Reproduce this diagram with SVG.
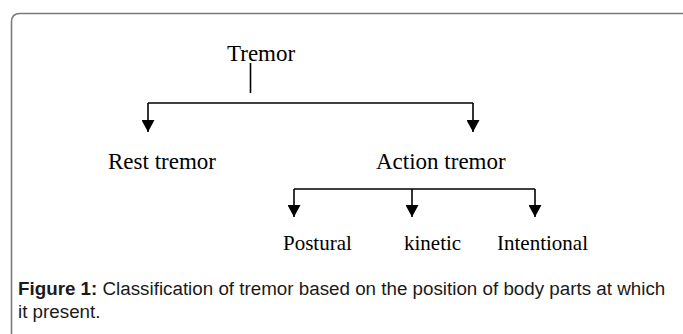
<svg xmlns="http://www.w3.org/2000/svg" width="683" height="334" viewBox="0 0 683 334">
<defs>
<style>
.lbl{font-family:"Liberation Serif","Times New Roman",serif;fill:#000}
.big{font-size:23px}
.sm{font-size:21px}
.ln{stroke:#000;stroke-width:1.6;fill:none}
.cap{font-family:"Liberation Sans",Arial,sans-serif;font-size:18.8px;fill:#1a1a1a}
</style>
<marker id="ah" viewBox="0 0 12 13" refX="12" refY="6.5" markerWidth="12" markerHeight="13" markerUnits="userSpaceOnUse" orient="auto">
<path d="M0,0 L12,6.5 L0,13 Z" fill="#000"/>
</marker>
</defs>
<rect width="683" height="334" fill="#fff"/>
<path d="M11.5 334 V22 Q11.5 13.5 20 13.5 H683" fill="none" stroke="#7a7a7a" stroke-width="1.6"/>
<g id="connectors">
<path class="ln" d="M250.5 63 V93"/>
<path class="ln" d="M148 103 H473"/>
<path class="ln" d="M148 103 V132" marker-end="url(#ah)"/>
<path class="ln" d="M473 103 V132" marker-end="url(#ah)"/>
<path class="ln" d="M294 189 H535"/>
<path class="ln" d="M294 189 V217" marker-end="url(#ah)"/>
<path class="ln" d="M412 189 V217" marker-end="url(#ah)"/>
<path class="ln" d="M535 189 V217" marker-end="url(#ah)"/>
</g>
<g id="tremor"><text class="lbl big" x="227" y="61">Tremor</text></g>
<g id="rest"><text class="lbl big" x="108" y="169">Rest tremor</text></g>
<g id="action"><text class="lbl big" x="376" y="169">Action tremor</text></g>
<g id="postural"><text class="lbl sm" x="283" y="250">Postural</text></g>
<g id="kinetic"><text class="lbl sm" x="404" y="250">kinetic</text></g>
<g id="intentional"><text class="lbl sm" x="497" y="250">Intentional</text></g>
<g id="caption">
<text class="cap" x="18" y="295"><tspan font-weight="bold">Figure 1:</tspan> Classification of tremor based on the position of body parts at which</text>
<text class="cap" x="18" y="318">it present.</text>
</g>
</svg>
